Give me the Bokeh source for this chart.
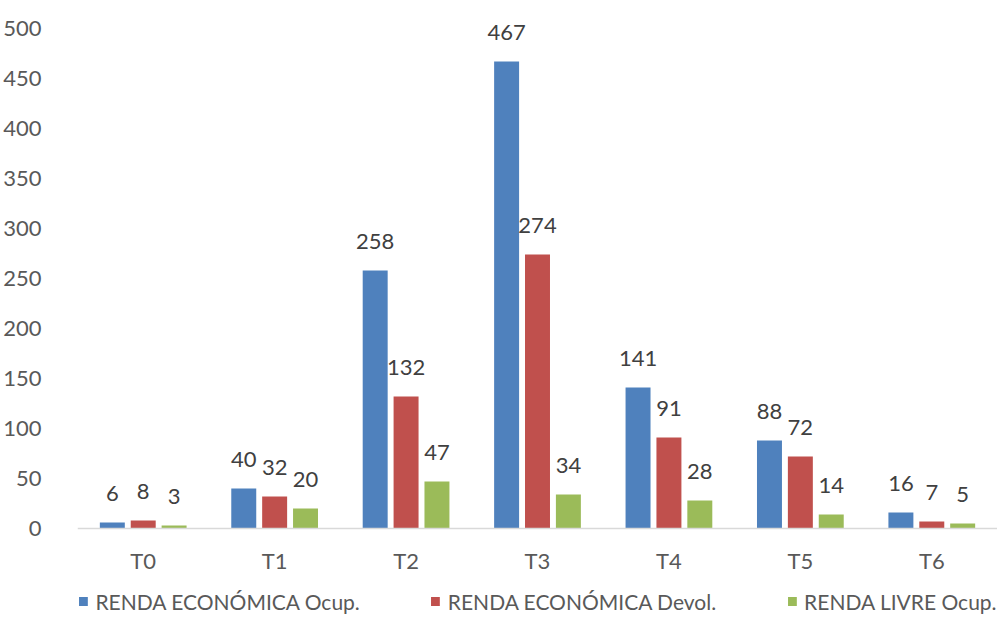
from bokeh.plotting import figure
from bokeh.layouts import column
from bokeh.models import (ColumnDataSource, FactorRange, Range1d, LabelSet, Legend, LegendItem,
                          FixedTicker, Span)
from bokeh.transform import dodge
from bokeh.core.properties import value
from bokeh.embed import file_html
from bokeh.resources import INLINE

categories = ["T0", "T1", "T2", "T3", "T4", "T5", "T6"]
series_names = ["RENDA ECONÓMICA Ocup.", "RENDA ECONÓMICA Devol.", "RENDA LIVRE Ocup."]
renda_eco_ocup = [6, 40, 258, 467, 141, 88, 16]
renda_eco_devol = [8, 32, 132, 274, 91, 72, 7]
renda_livre_ocup = [3, 20, 47, 34, 28, 14, 5]
y_ticks = [0, 50, 100, 150, 200, 250, 300, 350, 400, 450, 500]

colors = ["#4F81BD", "#C0504D", "#9BBB59"]
offsets = [-0.235, 0.0, 0.235]
series = [renda_eco_ocup, renda_eco_devol, renda_livre_ocup]

FONT = "Lato"

p = figure(frame_width=920, frame_height=585, x_range=FactorRange(*categories, range_padding=0),
           y_range=Range1d(-57, 528), output_backend="svg", toolbar_location=None,
           min_border_left=77, min_border_right=0, min_border_top=0, min_border_bottom=0)
p.outline_line_color = None
p.grid.grid_line_color = None
p.background_fill_color = "white"
p.border_fill_color = "white"

for name, vals, col, off in zip(series_names, series, colors, offsets):
    src = ColumnDataSource(dict(cat=categories, val=vals, lab=[str(v) for v in vals]))
    p.vbar(x=dodge("cat", off, range=p.x_range), top="val", width=0.19, source=src,
           fill_color=col, line_color=None)
    p.add_layout(LabelSet(x=dodge("cat", off, range=p.x_range), y="val", text="lab", source=src,
                          text_align="center", text_baseline="alphabetic", y_offset=22,
                          text_font=value(FONT), text_font_size="22px", text_color="#404040"))

# category axis: baseline at 0 with the category labels beneath it
p.add_layout(Span(location=0, dimension="width", line_color="#D9D9D9", line_width=1.5))
cat_src = ColumnDataSource(dict(cat=categories, zero=[0] * len(categories)))
p.add_layout(LabelSet(x="cat", y="zero", text="cat", source=cat_src, y_offset=-32,
                      text_align="center", text_baseline="middle",
                      text_font=value(FONT), text_font_size="22px", text_color="#595959"))
p.xaxis.visible = False

p.yaxis.ticker = FixedTicker(ticks=y_ticks)
p.yaxis.axis_line_color = None
p.yaxis.major_tick_line_color = None
p.yaxis.minor_tick_line_color = None
p.yaxis.major_label_standoff = 30
p.yaxis.major_label_text_font = FONT
p.yaxis.major_label_text_font_size = "22px"
p.yaxis.major_label_text_color = "#595959"

# legend strip below the chart
lg = figure(frame_width=920, frame_height=32, x_range=Range1d(0, 1), y_range=Range1d(0, 1),
            x_axis_type=None, y_axis_type=None, output_backend="svg", toolbar_location=None,
            min_border_left=77, min_border_right=0, min_border_top=0, min_border_bottom=0)
lg.outline_line_color = None
lg.grid.grid_line_color = None
items = []
for name, col in zip(series_names, colors):
    r = lg.vbar(x=[0.5], top=[0], bottom=[0], width=0.0001, fill_color=col, line_color=None)
    items.append(LegendItem(label=name, renderers=[r]))
legend = Legend(items=items, orientation="horizontal", location="center",
                label_text_font=FONT, label_text_font_size="21px", label_text_color="#595959",
                glyph_width=11, glyph_height=11, label_standoff=7, spacing=70,
                padding=0, margin=0, border_line_color=None, background_fill_alpha=0)
lg.add_layout(legend, "center")

layout = column(p, lg, spacing=0)
open("out.html", "w").write(file_html(layout, INLINE))
